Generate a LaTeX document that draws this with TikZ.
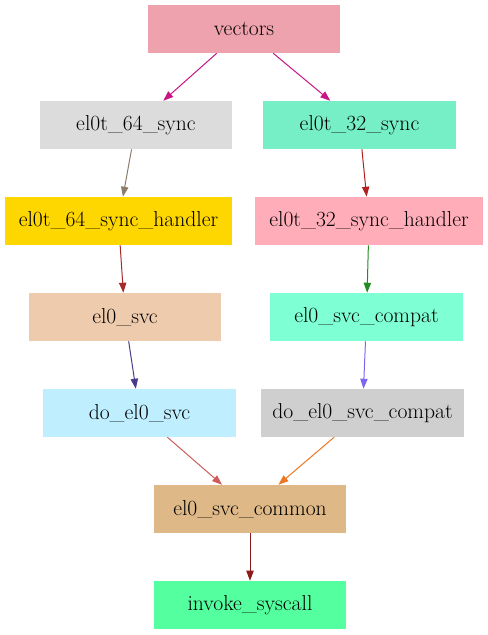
\documentclass[tikz,border=0pt]{standalone}
\usepackage{tikz}
\usetikzlibrary{arrows.meta,positioning}
\definecolor{vekrosa}{HTML}{EEA2AD}
\definecolor{syncgrau}{HTML}{DCDCDC}
\definecolor{syncaqua}{HTML}{76EEC6}
\definecolor{hdlgold}{HTML}{FFD700}
\definecolor{hdlrosa}{HTML}{FFAEB9}
\definecolor{svcpfirsich}{HTML}{EECBAD}
\definecolor{svcaqua}{HTML}{7FFFD4}
\definecolor{doblau}{HTML}{BFEFFF}
\definecolor{dograu}{HTML}{CFCFCF}
\definecolor{commonbraun}{HTML}{DEB887}
\definecolor{invgruen}{HTML}{54FF9F}
\definecolor{kmagenta}{HTML}{C71585}
\definecolor{kgraubraun}{HTML}{8B7D6B}
\definecolor{kziegel}{HTML}{B22222}
\definecolor{kbraun}{HTML}{A52A2A}
\definecolor{kgruen}{HTML}{228B22}
\definecolor{kdunkelblau}{HTML}{483D8B}
\definecolor{klila}{HTML}{7B68EE}
\definecolor{kindisch}{HTML}{CD5C5C}
\definecolor{korange}{HTML}{EE7621}
\definecolor{kdunkelrot}{HTML}{8B1A1A}
\newcommand{\fn}[1]{#1}

\begin{document}
\begin{tikzpicture}[x=0.75pt, y=-0.75pt,
    every node/.style={font=\fontsize{16.2}{19}\selectfont},
    fkt/.style={fill=#1, minimum height=36pt, inner sep=0pt},
    pfeil/.style={draw=#1, line width=0.75pt, -{Triangle[length=7.5pt,width=5.5pt]}}]
    \useasboundingbox (0,0) rectangle (488,635);
    \node[fkt=vekrosa, minimum width=144pt] (vec) at (244,29) {vectors};
    \node[fkt=syncgrau, minimum width=144pt] (s64) at (136,125) {el0t\_64\_sync};
    \node[fkt=syncaqua, minimum width=145pt] (s32) at (359.5,125) {el0t\_32\_sync};
    \node[fkt=hdlgold, minimum width=170pt] (h64) at (118.5,221) {el0t\_64\_sync\_handler};
    \node[fkt=hdlrosa, minimum width=171pt] (h32) at (369,221) {el0t\_32\_sync\_handler};
    \node[fkt=svcpfirsich, minimum width=144pt] (svc) at (125,317) {el0\_svc};
    \node[fkt=svcaqua, minimum width=145pt] (svcc) at (366.5,317) {el0\_svc\_compat};
    \node[fkt=doblau, minimum width=145pt] (do) at (139.5,413) {do\_el0\_svc};
    \node[fkt=dograu, minimum width=152pt] (doc) at (362.5,413) {do\_el0\_svc\_compat};
    \node[fkt=commonbraun, minimum width=144pt] (com) at (250,509) {el0\_svc\_common};
    \node[fkt=invgruen, minimum width=144pt] (inv) at (250,605) {invoke\_syscall};
    % Aufrufe
    \draw[pfeil=kmagenta] (vec) -- (s64);
    \draw[pfeil=kmagenta] (vec) -- (s32);
    \draw[pfeil=kgraubraun] (s64) -- (h64);
    \draw[pfeil=kziegel] (s32) -- (h32);
    \draw[pfeil=kbraun] (h64) -- (svc);
    \draw[pfeil=kgruen] (h32) -- (svcc);
    \draw[pfeil=kdunkelblau] (svc) -- (do);
    \draw[pfeil=klila] (svcc) -- (doc);
    \draw[pfeil=kindisch] (do) -- (com);
    \draw[pfeil=korange] (doc) -- (com);
    \draw[pfeil=kdunkelrot] (com) -- (inv);
\end{tikzpicture}
\end{document}
